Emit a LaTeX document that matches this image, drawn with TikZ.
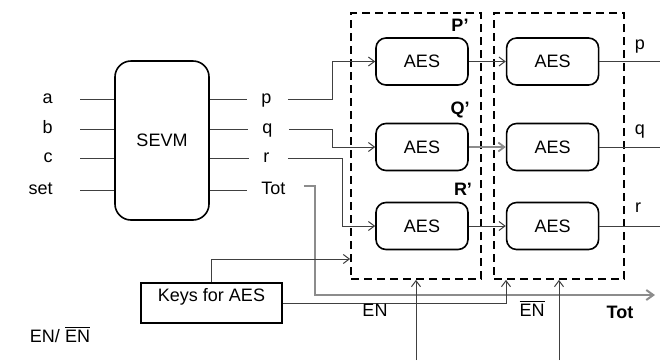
\documentclass[tikz,border=0pt]{standalone}
\usepackage{fontspec}
\setmainfont{Liberation Sans}
\usetikzlibrary{arrows.meta,positioning}
\tikzset{
  aesblock/.style={draw, rounded corners=5pt, minimum width=46pt, minimum height=23.5pt, line width=0.8pt, font=\fontsize{9}{11}\selectfont},
  sevmblock/.style={draw, rounded corners=8pt, minimum width=47pt, minimum height=79.5pt, line width=0.8pt, font=\fontsize{9}{11}\selectfont},
  keysblock/.style={draw, minimum width=70.5pt, minimum height=20pt, line width=0.8pt},
  stagebox/.style={draw, dash pattern=on 4pt off 2.5pt, line width=0.9pt, minimum width=65pt, minimum height=133pt},
  pinlabel/.style={font=\fontsize{9}{11}\selectfont, inner sep=0pt, text height=6.5pt, text depth=1.8pt},
  stagelabel/.style={font=\bfseries\fontsize{9}{11}\selectfont, inner sep=0pt},
  wire/.style={line width=0.5pt, black!75},
  wirearrow/.style={-{Straight Barb[length=3pt,width=4.5pt]}, line width=0.5pt, black!75},
  totarrow/.style={-{Straight Barb[length=3.5pt,width=5pt]}, line width=1pt, black!45}
}
\begin{document}
\begin{tikzpicture}[x=0.5pt, y=-0.5pt]
\useasboundingbox (0,0) rectangle (660,360);
% encoder block and its pins
\node[sevmblock] (sevm) at (162,140.5) {SEVM};
\node[pinlabel, anchor=east] (ina) at (53,99) {a};
\node[pinlabel, anchor=east] (inb) at (53,129) {b};
\node[pinlabel, anchor=east] (inc) at (53,158) {c};
\node[pinlabel, anchor=east] (inset) at (53,190) {set};
\foreach \pin in {ina,inb,inc,inset}
  \draw[wire] ([xshift=13.5pt]\pin.east) -- (sevm.west |- \pin.east);
\node[pinlabel, anchor=west] (outp) at (261,99) {p};
\node[pinlabel, anchor=west] (outq) at (262,129) {q};
\node[pinlabel, anchor=west] (outr) at (263,158) {r};
\node[pinlabel, anchor=west] (outtot) at (261,190) {Tot};
\foreach \pin in {outp,outq,outr,outtot}
  \draw[wire] (sevm.east |- \pin.west) -- ([xshift=-7pt]\pin.west);
% dashed stages
\node[stagebox] (stage1) at (416,146) {};
\node[stagebox] (stage2) at (559,146) {};
\node[aesblock] (aesP) at (422,61.5) {AES};
\node[aesblock] (aesQ) at (422,147) {AES};
\node[aesblock] (aesR) at (422,226) {AES};
\node[aesblock, right=18.5pt of aesP] (aesP2) {AES};
\node[aesblock, right=18.5pt of aesQ] (aesQ2) {AES};
\node[aesblock, right=18.5pt of aesR] (aesR2) {AES};
\node[stagelabel] (lblP) at (460,25) {P'};
\node[stagelabel] (lblQ) at (460,110) {Q'};
\node[stagelabel] (lblR) at (463,189) {R'};
% keys
\node[keysblock] (keys) at (211.5,303)
  [label={[font=\fontsize{9}{11}\selectfont, anchor=north, inner sep=0pt, yshift=-3pt]north:Keys for AES}] {};
% connectors
\draw[wirearrow] ([xshift=8pt]outp.east) -- (332,99) |- (aesP.west);
\draw[wirearrow] ([xshift=8pt]outq.east) -- (332,129) |- (aesQ.west);
\draw[wirearrow] ([xshift=9pt]outr.east) -- (342,158) |- (aesR.west);
\draw[wirearrow] (aesP.east) -- (aesP2.west);
\draw[wirearrow, line width=0.9pt, black!45] (aesQ.east) -- (aesQ2.west);
\draw[wirearrow] (aesR.east) -- (aesR2.west);
\coordinate (endp) at (660,61.5);
\coordinate (endq) at (660,147);
\coordinate (endr) at (660,226);
\draw[wire] (aesP2.east) -- (endp);
\draw[wire] (aesQ2.east) -- (endq);
\draw[wire] (aesR2.east) -- (endr);
\node[pinlabel] (rp) at (640,45) {p};
\node[pinlabel] (rq) at (640,130) {q};
\node[pinlabel] (rr) at (638,208) {r};
\coordinate (totend) at (655,295);
\draw[totarrow] ([xshift=9pt]outtot.east |- 0,186) -- (315,186) |- (totend);
\node[stagelabel] (lbltot) at (620,312) {Tot};
\draw[wirearrow] (keys.north) |- (stage1.west |- 0,259);
\draw[wirearrow] (keys.east) -| (stage2.south -| 506,0);
\node[pinlabel] (lblen) at (375,312) {EN};
\node[pinlabel] (lblenbar) at (532,312) {$\overline{\hbox{EN}}$};
\coordinate (enin1) at (416,360);
\coordinate (enin2) at (559,360);
\draw[wirearrow] (enin1) -- (stage1.south);
\draw[wirearrow] (enin2) -- (stage2.south);
\node[pinlabel] (legend) at (60,338) {EN/ $\overline{\hbox{EN}}$};
\end{tikzpicture}
\end{document}
